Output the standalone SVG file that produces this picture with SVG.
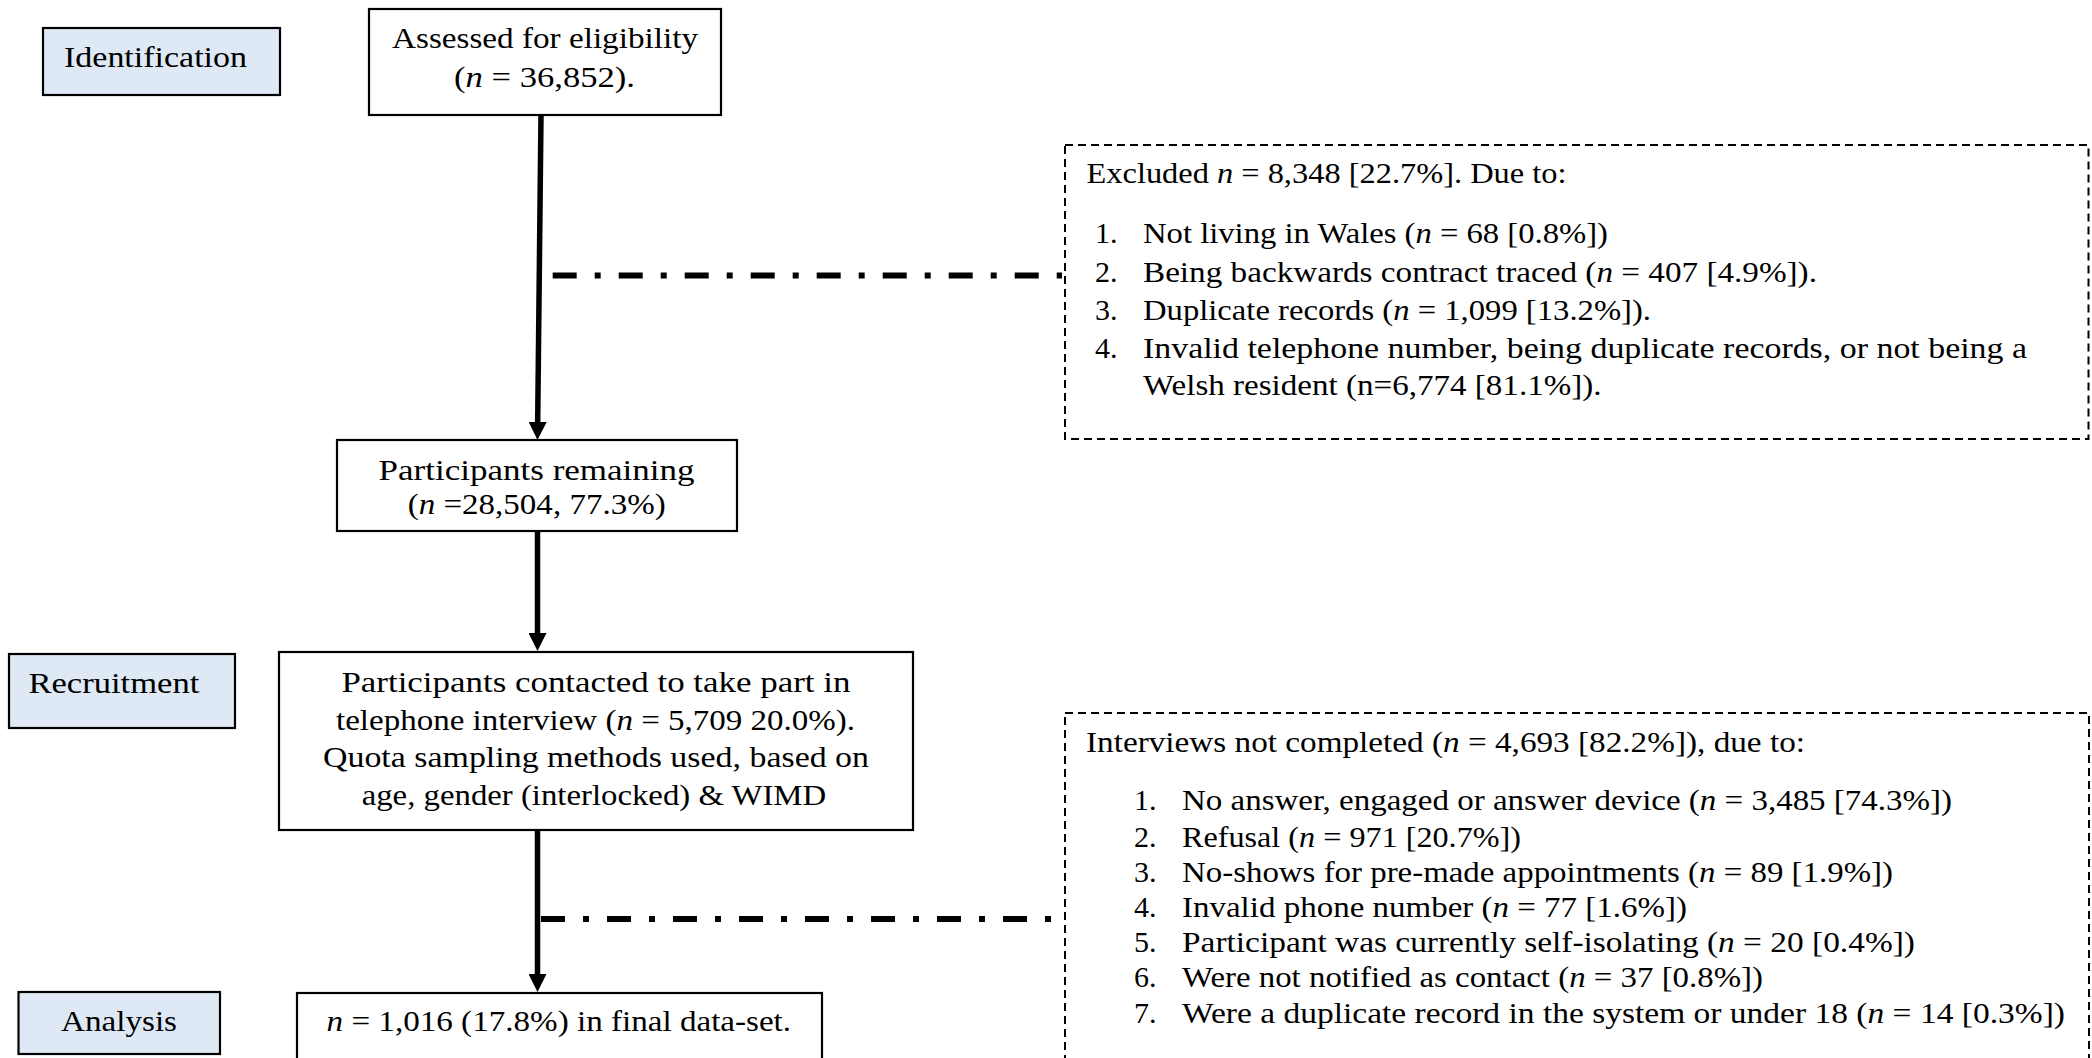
<svg xmlns="http://www.w3.org/2000/svg" width="2092" height="1058" viewBox="0 0 2092 1058">
<style>
.t{font-family:"Liberation Serif","Times New Roman",serif;font-size:30px;fill:#000}
.i{font-style:italic}
.lab{fill:#DEE9F5;stroke:#000;stroke-width:2.2}
.box{fill:#fff;stroke:#000;stroke-width:2.2}
.dbox{fill:#fff;stroke:#000;stroke-width:2;stroke-dasharray:8 5}
.conn{fill:none;stroke:#000;stroke-width:5.5}
.dd{fill:none;stroke:#000;stroke-width:6;stroke-dasharray:24 18 6 18}
</style>
<defs>
<marker id="ah" markerUnits="userSpaceOnUse" markerWidth="18" markerHeight="18" refX="8" refY="9" orient="auto">
<path d="M0,0 L18,9 L0,18 Z" fill="#000"/>
</marker>
</defs>
<rect width="2092" height="1058" fill="#fff"/>

<g id="connectors">
<line class="conn" x1="541" y1="115" x2="537.6" y2="430" marker-end="url(#ah)"/>
<line class="conn" x1="537.5" y1="531" x2="537.5" y2="641" marker-end="url(#ah)"/>
<line class="conn" x1="537.5" y1="830" x2="537.5" y2="982" marker-end="url(#ah)"/>
<line class="dd" x1="552.7" y1="275.5" x2="1062" y2="275.5"/>
<line class="dd" x1="541" y1="919" x2="1051" y2="919"/>
</g>

<g id="label-identification">
<rect class="lab" x="43" y="28" width="237" height="67"/>
<text class="t" x="64" y="67" textLength="183" lengthAdjust="spacingAndGlyphs">Identification</text>
</g>
<g id="label-recruitment">
<rect class="lab" x="9" y="654" width="226" height="74"/>
<text class="t" x="28.4" y="693" textLength="171" lengthAdjust="spacingAndGlyphs">Recruitment</text>
</g>
<g id="label-analysis">
<rect class="lab" x="18.5" y="992" width="201.5" height="62"/>
<text class="t" x="61" y="1031" textLength="116" lengthAdjust="spacingAndGlyphs">Analysis</text>
</g>

<g id="node-assessed">
<rect class="box" x="369" y="9" width="352" height="106"/>
<text class="t" x="392" y="48" textLength="306" lengthAdjust="spacingAndGlyphs">Assessed for eligibility</text>
<text class="t" x="454" y="87" textLength="181" lengthAdjust="spacingAndGlyphs">(<tspan class="i">n</tspan> = 36,852).</text>
</g>

<g id="node-remaining">
<rect class="box" x="337" y="440" width="400" height="91"/>
<text class="t" x="378.6" y="480" textLength="316" lengthAdjust="spacingAndGlyphs">Participants remaining</text>
<text class="t" x="407.7" y="514" textLength="258" lengthAdjust="spacingAndGlyphs">(<tspan class="i">n</tspan> =28,504, 77.3%)</text>
</g>

<g id="node-contacted">
<rect class="box" x="279" y="652" width="634" height="178"/>
<text class="t" x="341.4" y="692" textLength="509" lengthAdjust="spacingAndGlyphs">Participants contacted to take part in</text>
<text class="t" x="336" y="730" textLength="519" lengthAdjust="spacingAndGlyphs">telephone interview (<tspan class="i">n</tspan> = 5,709 20.0%).</text>
<text class="t" x="323" y="767" textLength="546" lengthAdjust="spacingAndGlyphs">Quota sampling methods used, based on</text>
<text class="t" x="361.7" y="805" textLength="464.5" lengthAdjust="spacingAndGlyphs">age, gender (interlocked) &amp; WIMD</text>
</g>

<g id="node-final">
<rect class="box" x="297" y="993" width="525" height="80"/>
<text class="t" x="326.6" y="1031" textLength="464.5" lengthAdjust="spacingAndGlyphs"><tspan class="i">n</tspan> = 1,016 (17.8%) in final data-set.</text>
</g>

<g id="node-excluded">
<rect class="dbox" x="1065" y="145" width="1023.5" height="294"/>
<text class="t" x="1086.5" y="183" textLength="480" lengthAdjust="spacingAndGlyphs">Excluded <tspan class="i">n</tspan> = 8,348 [22.7%]. Due to:</text>
<text class="t" x="1095" y="243">1.</text>
<text class="t" x="1143" y="243" textLength="465" lengthAdjust="spacingAndGlyphs">Not living in Wales (<tspan class="i">n</tspan> = 68 [0.8%])</text>
<text class="t" x="1095" y="282">2.</text>
<text class="t" x="1143" y="282" textLength="674" lengthAdjust="spacingAndGlyphs">Being backwards contract traced (<tspan class="i">n</tspan> = 407 [4.9%]).</text>
<text class="t" x="1095" y="320">3.</text>
<text class="t" x="1143" y="320" textLength="508" lengthAdjust="spacingAndGlyphs">Duplicate records (<tspan class="i">n</tspan> = 1,099 [13.2%]).</text>
<text class="t" x="1095" y="358">4.</text>
<text class="t" x="1143" y="358" textLength="884" lengthAdjust="spacingAndGlyphs">Invalid telephone number, being duplicate records, or not being a</text>
<text class="t" x="1143" y="395" textLength="458.5" lengthAdjust="spacingAndGlyphs">Welsh resident (n=6,774 [81.1%]).</text>
</g>

<g id="node-not-completed">
<rect class="dbox" x="1065" y="713" width="1024" height="360"/>
<text class="t" x="1086" y="752" textLength="719" lengthAdjust="spacingAndGlyphs">Interviews not completed (<tspan class="i">n</tspan> = 4,693 [82.2%]), due to:</text>
<text class="t" x="1134" y="810">1.</text>
<text class="t" x="1182" y="810" textLength="770" lengthAdjust="spacingAndGlyphs">No answer, engaged or answer device (<tspan class="i">n</tspan> = 3,485 [74.3%])</text>
<text class="t" x="1134" y="846.5">2.</text>
<text class="t" x="1182" y="846.5" textLength="339" lengthAdjust="spacingAndGlyphs">Refusal (<tspan class="i">n</tspan> = 971 [20.7%])</text>
<text class="t" x="1134" y="881.5">3.</text>
<text class="t" x="1182" y="881.5" textLength="711" lengthAdjust="spacingAndGlyphs">No-shows for pre-made appointments (<tspan class="i">n</tspan> = 89 [1.9%])</text>
<text class="t" x="1134" y="916.5">4.</text>
<text class="t" x="1182" y="916.5" textLength="505" lengthAdjust="spacingAndGlyphs">Invalid phone number (<tspan class="i">n</tspan> = 77 [1.6%])</text>
<text class="t" x="1134" y="951.5">5.</text>
<text class="t" x="1182" y="951.5" textLength="733" lengthAdjust="spacingAndGlyphs">Participant was currently self-isolating (<tspan class="i">n</tspan> = 20 [0.4%])</text>
<text class="t" x="1134" y="986.5">6.</text>
<text class="t" x="1182" y="986.5" textLength="581" lengthAdjust="spacingAndGlyphs">Were not notified as contact (<tspan class="i">n</tspan> = 37 [0.8%])</text>
<text class="t" x="1134" y="1022.5">7.</text>
<text class="t" x="1182" y="1022.5" textLength="883" lengthAdjust="spacingAndGlyphs">Were a duplicate record in the system or under 18 (<tspan class="i">n</tspan> = 14 [0.3%])</text>
</g>
</svg>
